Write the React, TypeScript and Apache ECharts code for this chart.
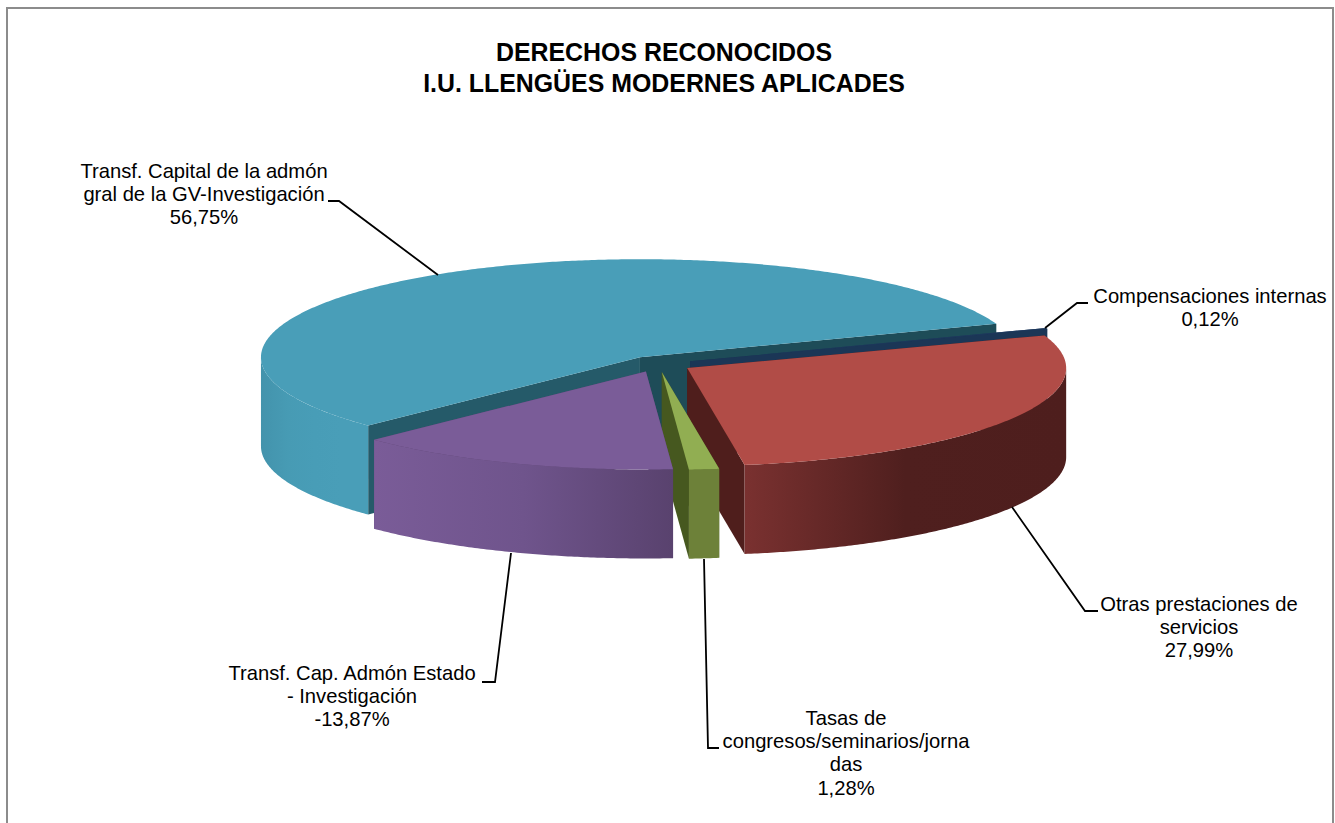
import React, { useEffect, useRef } from "react";
import * as echarts from "echarts";

const titleText = "DERECHOS RECONOCIDOS\nI.U. LLENGÜES MODERNES APLICADES";
const categories = [
  "Compensaciones internas",
  "Otras prestaciones de\nservicios",
  "Tasas de\ncongresos/seminarios/jorna\ndas",
  "Transf. Cap. Admón Estado\n- Investigación",
  "Transf. Capital de la admón\ngral de la GV-Investigación",
];
const values = [0.12, 27.99, 1.28, -13.87, 56.75];
const drawOrder = [4, 0, 1, 2, 3];

// Pie geometry (pixels)
const CX = 658, CY = 364, RX = 379, RY = 98, DEPTH = 89, EX = 34, EY = 8;
const START_ANGLE = 70.1; // clockwise from the top of the ellipse

const looks = [
  { top: "#1f3a5f", wall: ["#1b3353", "#1b3353"], startFace: "#1b3656", endFace: "#1b3656" },
  { top: "#b14c47", wall: ["#7a3130", "#4f1f1e", "#4e1e1d"], startFace: "#4f1e1c", endFace: "#4f1e1c" },
  { top: "#91ae52", wall: ["#6d8139", "#6d8139"], startFace: "#46581f", endFace: "#46581f" },
  { top: "#7a5c98", wall: ["#7a5c98", "#6f548c", "#59426e"], startFace: "#59426e", endFace: "#59426e" },
  { top: "#499eb8", wall: ["#4393ac", "#479bb4", "#489db7", "#499eb8", "#499eb8"], startFace: "#255a69", endFace: "#1e4c58" },
];

const labelLayout = [
  { x: 1210, y: 284, line: [[1045, 328], [1077, 303], [1088, 303]] },
  { x: 1199, y: 592, line: [[1012, 507], [1085, 611], [1098, 611]] },
  { x: 846, y: 706, line: [[704, 559], [708, 748], [719, 748]] },
  { x: 352, y: 661, line: [[511, 553], [495, 682], [482, 682]] },
  { x: 204, y: 159, line: [[438, 275], [339, 201], [328, 201]] },
];

const total = values.reduce((s, v) => s + Math.abs(v), 0);
const rad = (d: number) => (d * Math.PI) / 180;

function renderSlice(_params: any, api: any) {
  const idx = api.value(0) as number;
  let before = 0;
  for (let i = 0; i < idx; i++) before += Math.abs(values[i]);
  const a0 = START_ANGLE + (before / total) * 360;
  const a1 = a0 + (Math.abs(values[idx]) / total) * 360;
  const mid = rad((a0 + a1) / 2);
  const ax = CX + EX * Math.sin(mid);
  const ay = CY - EY * Math.cos(mid);
  const rim = (deg: number, dz = 0) => [
    ax + RX * Math.sin(rad(deg)),
    ay - RY * Math.cos(rad(deg)) + dz,
  ];
  const arc = (from: number, to: number, dz = 0) => {
    const pts: number[][] = [];
    const n = Math.max(1, Math.ceil((to - from) * 2));
    for (let i = 0; i <= n; i++) pts.push(rim(from + ((to - from) * i) / n, dz));
    return pts;
  };
  const look = looks[idx];
  const children: any[] = [];
  const poly = (points: number[][], fill: any) =>
    children.push({ type: "polygon", shape: { points }, style: { fill, stroke: null } });

  const face = (deg: number, fill: string) => {
    const p = rim(deg);
    poly([[ax, ay], p, [p[0], p[1] + DEPTH], [ax, ay + DEPTH]], fill);
  };
  face(a0, look.startFace);
  face(a1, look.endFace);

  // Outer wall: only the part of the rim that faces the viewer
  for (const shift of [0, 360]) {
    const from = Math.max(a0, 90 + shift);
    const to = Math.min(a1, 270 + shift);
    if (to > from) {
      const top = arc(from, to);
      const bottom = arc(from, to, DEPTH).reverse();
      const stops = look.wall.map((color, i) => ({ offset: i / (look.wall.length - 1), color }));
      const xs = top.map((p) => p[0]);
      const grad = new echarts.graphic.LinearGradient(Math.min(...xs), 0, Math.max(...xs), 0, stops, true);
      poly(top.concat(bottom), grad);
    }
  }
  poly([[ax, ay], ...arc(a0, a1)], look.top);

  // Leader line and label
  const lay = labelLayout[idx];
  children.push({
    type: "polyline",
    shape: { points: lay.line },
    style: { stroke: "#000", lineWidth: 1.8, fill: null },
  });
  const pct = values[idx].toFixed(2).replace(".", ",") + "%";
  children.push({
    type: "text",
    x: lay.x,
    y: lay.y,
    style: {
      text: categories[idx] + "\n" + pct,
      fill: "#000",
      fontSize: 20.2,
      fontFamily: '"Liberation Sans", Arial, sans-serif',
      lineHeight: 23.3,
      align: "center",
      verticalAlign: "top",
    },
  });
  return { type: "group", children };
}

export default function App() {
  const ref = useRef<HTMLDivElement>(null);
  useEffect(() => {
    document.body.style.margin = "0";
    document.body.style.overflow = "hidden";
    const chart = echarts.init(ref.current!, null, { renderer: "svg" });
    chart.setOption({
      animation: false,
      backgroundColor: "#ffffff",
      title: {
        text: titleText,
        left: 659,
        top: 31,
        textAlign: "center",
        textStyle: {
          color: "#000",
          fontFamily: '"Liberation Sans", Arial, sans-serif',
          fontSize: 24.9,
          fontWeight: "bold",
          lineHeight: 31,
        },
      },
      graphic: [
        {
          type: "rect",
          shape: { x: 7, y: 8, width: 1326, height: 840 },
          style: { fill: "none", stroke: "#8c8c8c", lineWidth: 2 },
          z: 0,
        },
      ],
      series: [
        {
          type: "custom",
          coordinateSystem: "none",
          renderItem: renderSlice,
          data: drawOrder.map((i) => [i, values[i]]),
          clip: false,
          silent: true,
        },
      ],
    });
    return () => chart.dispose();
  }, []);
  return (
    <div
      ref={ref}
      style={{ position: "absolute", left: 0, top: 0, width: 1335, height: 823 }}
    />
  );
}
